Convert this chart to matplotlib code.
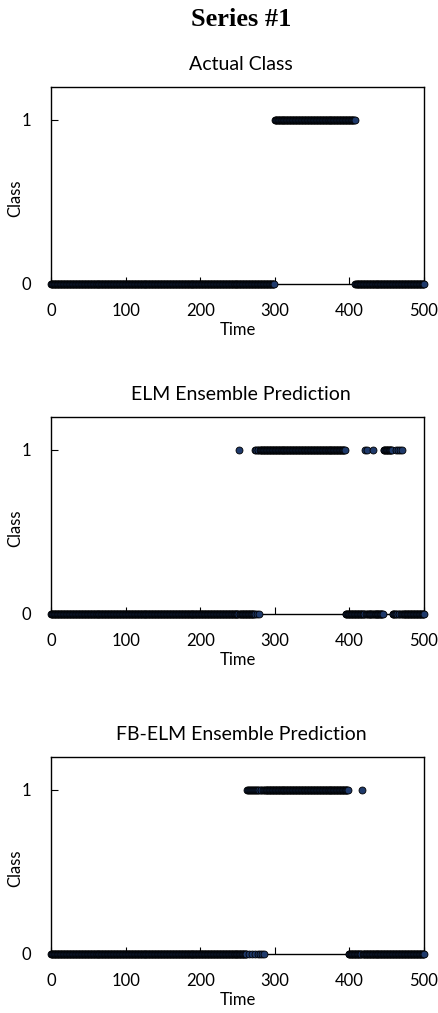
import numpy as np
import matplotlib
matplotlib.use("Agg")
import matplotlib.pyplot as plt

# ---- data ----
time = np.arange(0, 501)

# class-1 intervals (inclusive) and isolated class-1 points, zeros inside ranges
actual_one_ranges = [(300, 407)]
actual_one_points = []
actual_zero_points = []

elm_one_ranges = [(274, 394), (446, 457)]
elm_one_points = [252, 421, 424, 432, 462, 465, 468, 470]
elm_zero_points = [276, 279]

fb_one_ranges = [(263, 398)]
fb_one_points = [417]
fb_zero_points = [266, 270, 274, 277, 280, 283, 285]

titles = ["Actual Class", "ELM Ensemble Prediction", "FB-ELM Ensemble Prediction"]
suptitle = "Series #1"
x_ticks = [0, 100, 200, 300, 400, 500]
y_ticks = [0, 1]


def build(one_ranges, one_points, zero_points):
    c = np.zeros_like(time)
    for a, b in one_ranges:
        c[(time >= a) & (time <= b)] = 1
    for p in one_points:
        c[time == p] = 1
    for p in zero_points:
        c[time == p] = 0
    return c


series = [
    build(actual_one_ranges, actual_one_points, actual_zero_points),
    build(elm_one_ranges, elm_one_points, elm_zero_points),
    build(fb_one_ranges, fb_one_points, fb_zero_points),
]

plt.rcParams['font.family'] = ['Lato', 'DejaVu Sans']

W, H = 439, 1013
fig = plt.figure(figsize=(W / 100, H / 100), dpi=100)

left_px, right_px = 51, 424
tops_px = [87, 417, 757]
bottoms_px = [284, 614, 954]

fig.text(241 / W, 1 - 20 / H, suptitle, ha="center", va="center",
         fontsize=19, fontweight="bold", family="Liberation Serif")

for i in range(3):
    hpx = bottoms_px[i] - tops_px[i]
    ax = fig.add_axes([left_px / W, 1 - bottoms_px[i] / H,
                       (right_px - left_px) / W, hpx / H])
    ax.plot(time, series[i], linestyle="none", marker="o", markersize=5,
            markerfacecolor="#1f3a6b", markeredgecolor="black",
            markeredgewidth=0.6, clip_on=False, zorder=3)
    ax.set_xlim(0, 500)
    ax.set_ylim(0, 1.2)
    ax.set_xticks(x_ticks)
    ax.set_yticks(y_ticks)
    ax.tick_params(axis="both", direction="in", length=5, width=0.8,
                   labelsize=12, colors="black")
    ax.tick_params(axis="x", pad=13.5)
    ax.tick_params(axis="y", pad=14)
    for s in ax.spines.values():
        s.set_linewidth(1.0)
        s.set_color("black")
    ax.set_title(titles[i], fontsize=14, pad=12, x=0.51)
    ax.set_xlabel("Time", fontsize=12)
    ax.set_ylabel("Class", fontsize=12)
    ax.xaxis.set_label_coords(0.5, -(322 - bottoms_px[0]) / hpx)
    ax.yaxis.set_label_coords(-(51 - 23) / 373, 0.437)

fig.savefig("out.png", dpi=100)
